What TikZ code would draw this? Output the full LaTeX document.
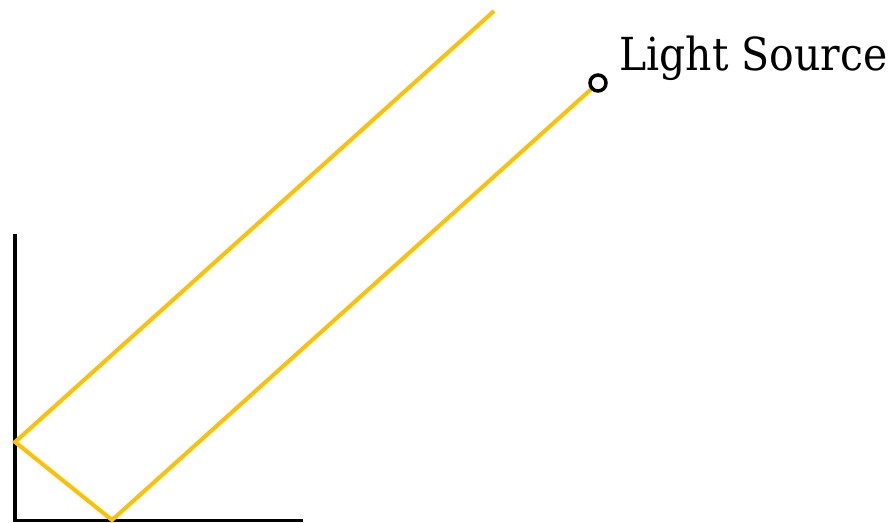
\documentclass[tikz,border=0pt]{standalone}
\usepackage{fontspec}
\setmainfont{DejaVu Serif Condensed}
\definecolor{ray}{RGB}{255,192,0}
\begin{document}
\begin{tikzpicture}[x=1pt,y=-1pt,
  rayline/.style={draw=ray,line width=4pt},
  wall/.style={draw=black,line width=4.5pt},
  lamp/.style={circle,draw=black,line width=3.5pt,fill=white,minimum size=16pt,inner sep=0pt}]
\useasboundingbox (0,0) rectangle (893,522);
\coordinate (wtop) at (15,234);
\coordinate (corner) at (15,520);
\coordinate (fend) at (303,520);
\coordinate (b1) at (112,520);
\coordinate (b2) at (15,442);
\coordinate (rend) at (494,11);
\draw[wall] (wtop) -- (15,522);
\draw[draw=black,line width=3.5pt] (13,520.5) -- (303,520.5);
\draw[rayline,line join=miter] (598,83) -- (b1) -- (b2) -- (rend);
\node[lamp] (src) at (598,83) {};
\node[anchor=base west,inner sep=0pt,font=\fontsize{45.5}{54}\selectfont] (lbl) at (619,70) {Light Source};
\end{tikzpicture}
\end{document}
